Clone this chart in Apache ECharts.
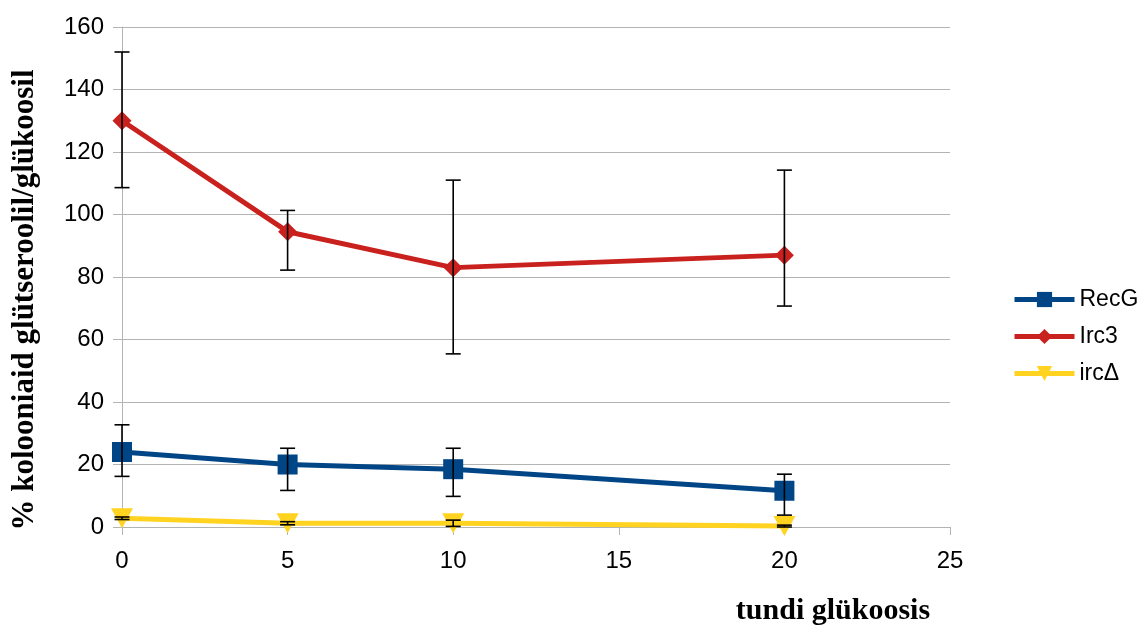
<!DOCTYPE html>
<html><head><meta charset="utf-8">
<script src="https://cdn.jsdelivr.net/npm/echarts@6/dist/echarts.min.js"></script>
<style>html,body{margin:0;padding:0;background:#fff}#c{width:1146px;height:630px}</style>
</head><body><div id="c"></div>
<script>
const xValues = [0, 5, 10, 20];
const seriesNames = ['RecG', 'Irc3', 'ircΔ'];
const recG = [24, 20, 18.5, 11.6];
const recGLow = [16.2, 11.7, 9.8, 3.8];
const recGHigh = [32.7, 25.2, 25.2, 16.9];
const irc3 = [130, 94.5, 83, 87];
const irc3Low = [108.6, 82.2, 55.4, 70.7];
const irc3High = [152, 101.3, 111, 114.2];
const ircD = [2.8, 1.2, 1.2, 0.3];
const ircDLow = [2.4, 0.7, 0.2, 0];
const ircDHigh = [3.2, 1.7, 2.2, 0.6];
const yTitle = '% kolooniaid glütseroolil/glükoosil';
const xTitle = 'tundi glükoosis';

const colors = ['#004586', '#c9211e', '#ffd320'];
const pts = v => xValues.map((x, i) => [x, v[i]]);
const errs = (lo, hi) => xValues.map((x, i) => [x, lo[i], hi[i]]);

function errRender(params, api) {
  const x = api.value(0);
  const p1 = api.coord([x, api.value(1)]);
  const p2 = api.coord([x, api.value(2)]);
  const w = 7.5;
  const st = {stroke: '#000', lineWidth: 1.6};
  return {type: 'group', children: [
    {type: 'line', shape: {x1: p1[0], y1: p1[1], x2: p2[0], y2: p2[1]}, style: st},
    {type: 'line', shape: {x1: p1[0]-w, y1: p1[1], x2: p1[0]+w, y2: p1[1]}, style: st},
    {type: 'line', shape: {x1: p2[0]-w, y1: p2[1], x2: p2[0]+w, y2: p2[1]}, style: st}
  ]};
}

const chart = echarts.init(document.getElementById('c'));
chart.setOption({
  animation: false,
  grid: {left: 122, right: 196, top: 27, bottom: 103, containLabel: false, outerBoundsMode: 'none'},
  legend: {
    orient: 'vertical', left: 1007, top: 283, itemGap: 14,
    itemWidth: 60, itemHeight: 19,
    lineStyle: {width: 5},
    textStyle: {fontFamily: 'Liberation Sans', fontSize: 23, color: '#000'},
    data: seriesNames
  },
  graphic: [
    {type: 'text', x: 833, y: 611, style: {text: xTitle, font: 'bold 30px "Liberation Serif"', fill: '#000', align: 'center', verticalAlign: 'middle'}},
    {type: 'text', x: 25, y: 300, rotation: Math.PI / 2, style: {text: yTitle, font: 'bold 31px "Liberation Serif"', fill: '#000', align: 'center', verticalAlign: 'middle'}}
  ],
  xAxis: {
    type: 'value', min: 0, max: 25, interval: 5,
    axisLine: {lineStyle: {color: '#b3b3b3', width: 1}},
    axisTick: {show: true, length: 8, lineStyle: {color: '#b3b3b3'}},
    axisLabel: {fontFamily: 'Liberation Sans', fontSize: 24, color: '#000', margin: 22},
    splitLine: {show: false}
  },
  yAxis: {
    type: 'value', min: 0, max: 160, interval: 20,
    axisLine: {show: true, lineStyle: {color: '#b3b3b3', width: 1}},
    axisTick: {show: true, length: 9, lineStyle: {color: '#b3b3b3'}},
    axisLabel: {fontFamily: 'Liberation Sans', fontSize: 24, color: '#000', margin: 18},
    splitLine: {lineStyle: {color: '#b3b3b3', width: 1}}
  },
  series: [
    {name: 'RecG', type: 'line', data: pts(recG), color: colors[0],
     lineStyle: {width: 5}, symbol: 'rect', symbolSize: 20, z: 3},
    {name: 'Irc3', type: 'line', data: pts(irc3), color: colors[1],
     lineStyle: {width: 5}, symbol: 'path://M5,0 L10,5 L5,10 L0,5 Z', symbolSize: 19, z: 3},
    {name: 'ircΔ', type: 'line', data: pts(ircD), color: colors[2],
     lineStyle: {width: 5}, symbol: 'path://M0,0 L10,0 L5,9 Z', symbolSize: [22, 20], z: 4},
    {type: 'custom', data: errs(recGLow, recGHigh), renderItem: errRender, z: 10, silent: true},
    {type: 'custom', data: errs(irc3Low, irc3High), renderItem: errRender, z: 10, silent: true},
    {type: 'custom', data: errs(ircDLow, ircDHigh), renderItem: errRender, z: 10, silent: true}
  ]
});
</script></body></html>
